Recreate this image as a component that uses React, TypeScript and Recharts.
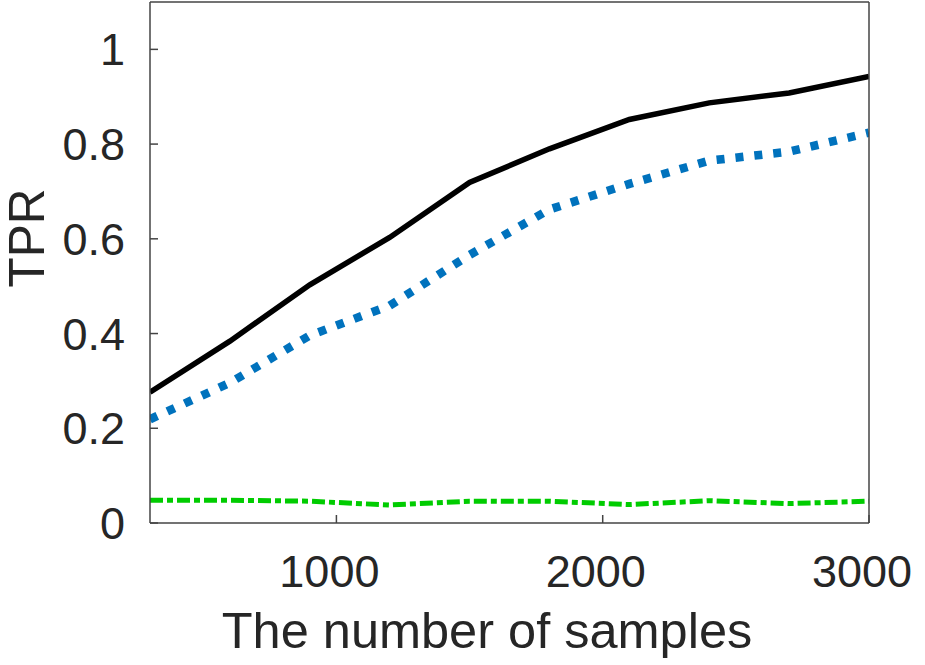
import { LineChart, Line, XAxis, YAxis, Label } from "recharts";

const SAMPLES = [300, 600, 900, 1200, 1500, 1800, 2100, 2400, 2700, 3000];
const TPR_SOLID = [0.276, 0.384, 0.503, 0.603, 0.719, 0.79, 0.852, 0.887, 0.908, 0.943];
const TPR_DOTTED = [0.219, 0.296, 0.396, 0.459, 0.566, 0.662, 0.716, 0.765, 0.784, 0.824];
const TPR_DASHDOT = [0.048, 0.048, 0.046, 0.038, 0.046, 0.046, 0.039, 0.047, 0.041, 0.046];

const X_TICKS = [1000, 2000, 3000];
const Y_TICKS = [0, 0.2, 0.4, 0.6, 0.8, 1];

const data = SAMPLES.map((n, i) => ({
  n,
  solid: TPR_SOLID[i],
  dotted: TPR_DOTTED[i],
  dashdot: TPR_DASHDOT[i],
}));

const FONT = "'Liberation Sans', Arial, Helvetica, sans-serif";
const INK = "#262626";
const AXIS = "#444444";
const TICK_LEN = 8; // negative tickSize -> ticks point into the box (matlab look)

const tickText = { fill: INK, fontSize: 45, fontFamily: FONT };
const axisStroke = { stroke: AXIS, strokeWidth: 1.5 };

export default function App() {
  return (
    <div style={{ position: "absolute", left: 0, top: 0, width: 925, height: 665, background: "#fff" }}>
      <LineChart width={925} height={665} data={data} margin={{ top: 1, right: 55, bottom: 0, left: 0 }}>
        <XAxis
          xAxisId="bottom"
          dataKey="n"
          type="number"
          domain={[300, 3000]}
          ticks={X_TICKS}
          height={142}
          tickSize={-TICK_LEN}
          tickMargin={32 + TICK_LEN}
          tickLine={axisStroke}
          tick={{ ...tickText, dx: -7 }}
          axisLine={axisStroke}
          allowDataOverflow
        >
          <Label
            content={() => (
              <text x={487} y={648} textAnchor="middle" fill={INK} fontSize={50.5} fontFamily={FONT}>
                The number of samples
              </text>
            )}
          />
        </XAxis>
        <XAxis
          xAxisId="top"
          orientation="top"
          dataKey="n"
          type="number"
          domain={[300, 3000]}
          ticks={X_TICKS}
          height={1}
          tickSize={-TICK_LEN}
          tickMargin={0}
          tickLine={axisStroke}
          tick={false}
          axisLine={axisStroke}
        />
        <YAxis
          yAxisId="left"
          type="number"
          domain={[0, 1.1]}
          ticks={Y_TICKS}
          width={150}
          tickSize={-TICK_LEN}
          tickMargin={25 + TICK_LEN}
          tickLine={axisStroke}
          tick={tickText}
          axisLine={axisStroke}
        >
          <Label
            content={() => (
              <text
                x={44}
                y={238}
                transform="rotate(-90 44 238)"
                textAnchor="middle"
                fill={INK}
                fontSize={49.5}
                fontFamily={FONT}
              >
                TPR
              </text>
            )}
          />
        </YAxis>
        <YAxis
          yAxisId="right"
          orientation="right"
          type="number"
          domain={[0, 1.1]}
          ticks={Y_TICKS}
          width={1}
          tickSize={-TICK_LEN}
          tickMargin={0}
          tickLine={axisStroke}
          tick={false}
          axisLine={axisStroke}
        />

        <Line
          xAxisId="bottom"
          yAxisId="left"
          type="linear"
          dataKey="dashdot"
          stroke="#00cc00"
          strokeWidth={5}
          strokeDasharray="13 4 6 4"
          dot={false}
          isAnimationActive={false}
        />
        <Line
          xAxisId="bottom"
          yAxisId="left"
          type="linear"
          dataKey="dotted"
          stroke="#0072bd"
          strokeWidth={8.5}
          strokeDasharray="8 11"
          dot={false}
          isAnimationActive={false}
        />
        <Line
          xAxisId="bottom"
          yAxisId="left"
          type="linear"
          dataKey="solid"
          stroke="#000000"
          strokeWidth={5.5}
          dot={false}
          isAnimationActive={false}
        />
      </LineChart>
    </div>
  );
}
